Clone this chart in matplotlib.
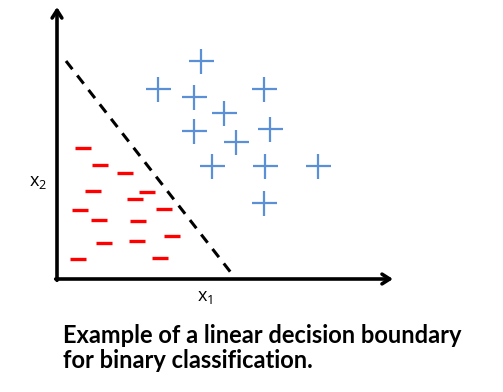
import matplotlib
matplotlib.use("Agg")
import matplotlib.pyplot as plt

# === 資料（以原點為座標 0，單位約為像素）===
plus_x = [144, 101, 137, 207, 167, 137, 213, 179, 155, 208, 261, 207]
plus_y = [218, 190, 182, 190, 166, 148, 150, 137, 113, 113, 113, 76]

minus_x = [26, 43, 68, 36, 90, 78, 23, 107, 42, 81, 47, 80, 115, 21, 103]
minus_y = [131, 114, 106, 88, 87, 80, 69, 70, 59, 58, 36, 38, 43, 20, 21]

boundary_x = [9, 175]
boundary_y = [218, 5]

caption = "Example of a linear decision boundary\nfor binary classification."

W, H = 503, 392
x0, y0 = 57, 279  # 軸原點（像素）

fig = plt.figure(figsize=(W / 100, H / 100), dpi=100)
ax = fig.add_axes([0, 0, 1, 1])
ax.set_xlim(-x0, W - x0)
ax.set_ylim(y0 - H, y0)
ax.axis("off")

# 座標軸箭頭
head = dict(arrowstyle="->,head_length=0.55,head_width=0.35",
            lw=2.6, color="black", shrinkA=0, shrinkB=0)
ax.annotate("", xy=(0, 272), xytext=(0, -1.3), arrowprops=head)
ax.annotate("", xy=(336, 0), xytext=(-1.3, 0), arrowprops=head)

# 決策邊界
ax.plot(boundary_x, boundary_y, color="black", lw=2.2, dashes=(3.4, 2.6))

# 資料點
ax.plot(plus_x, plus_y, linestyle="none", marker="+", markersize=18,
        markeredgewidth=1.6, color="#5b8fd6")
ax.plot(minus_x, minus_y, linestyle="none", marker="_", markersize=11,
        markeredgewidth=2.4, color="#ff0000")

# 軸標籤
ax.text(-19, 97, r"$\mathregular{x_2}$", fontsize=13, ha="center", va="center", family="Open Sans")
ax.text(148, -18, r"$\mathregular{x_1}$", fontsize=13, ha="center", va="center", family="Open Sans")

# 說明文字
ax.text(6, -45, caption, fontsize=17, fontweight="bold", family="Lato",
        ha="left", va="top", linespacing=1.12)

fig.savefig("out.png", dpi=100)
